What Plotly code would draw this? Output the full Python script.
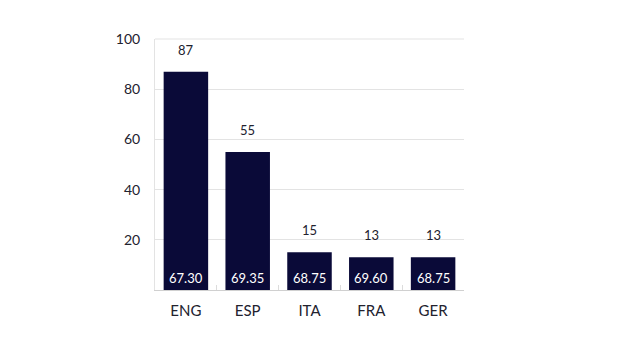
import plotly.graph_objects as go

# League data
leagues = ["ENG", "ESP", "ITA", "FRA", "GER"]
counts = [87, 55, 15, 13, 13]
avg_scores = ["67.30", "69.35", "68.75", "69.60", "68.75"]
y_ticks = [20, 40, 60, 80, 100]

BAR = "#0a0a38"
TEXT = "#22222e"
GRID = "#e3e3e3"

fig = go.Figure()
fig.add_trace(go.Bar(
    x=leagues, y=counts,
    marker=dict(color=BAR, line=dict(width=0)),
    hoverinfo="x+y",
))

# Value above each bar
for lg, c in zip(leagues, counts):
    fig.add_annotation(x=lg, y=c, text=str(c), showarrow=False,
                       yanchor="bottom", yshift=12,
                       font=dict(family="Lato", size=13, color=TEXT))

# Average score at the base of each bar
for lg, s in zip(leagues, avg_scores):
    fig.add_annotation(x=lg, y=0, text=s, showarrow=False,
                       yanchor="bottom", yshift=2,
                       font=dict(family="Lato", size=13, color="white"))

# Top border of the plot area
fig.add_shape(type="line", xref="paper", yref="paper", x0=0, x1=1, y0=1, y1=1,
              line=dict(color=GRID, width=1), layer="below")

fig.update_layout(
    width=640, height=350,
    margin=dict(l=155, r=176, t=39, b=60),
    plot_bgcolor="white", paper_bgcolor="white",
    bargap=0.28, showlegend=False,
    font=dict(family="Lato", color=TEXT),
)
fig.update_yaxes(
    range=[0, 100], tickvals=y_ticks, showgrid=True, gridcolor=GRID, gridwidth=1,
    showline=True, linecolor=GRID, linewidth=1, zeroline=False,
    ticks="", ticklabelstandoff=11, tickfont=dict(family="Lato", size=14, color=TEXT),
)
fig.update_xaxes(
    showline=True, linecolor="#d0d0d0", linewidth=1,
    ticks="inside", tickson="boundaries", ticklen=5, tickcolor="#dcdcdc",
    tickfont=dict(family="Lato", size=15, color=TEXT), ticklabelstandoff=7,
)

fig.write_html("out.html")
